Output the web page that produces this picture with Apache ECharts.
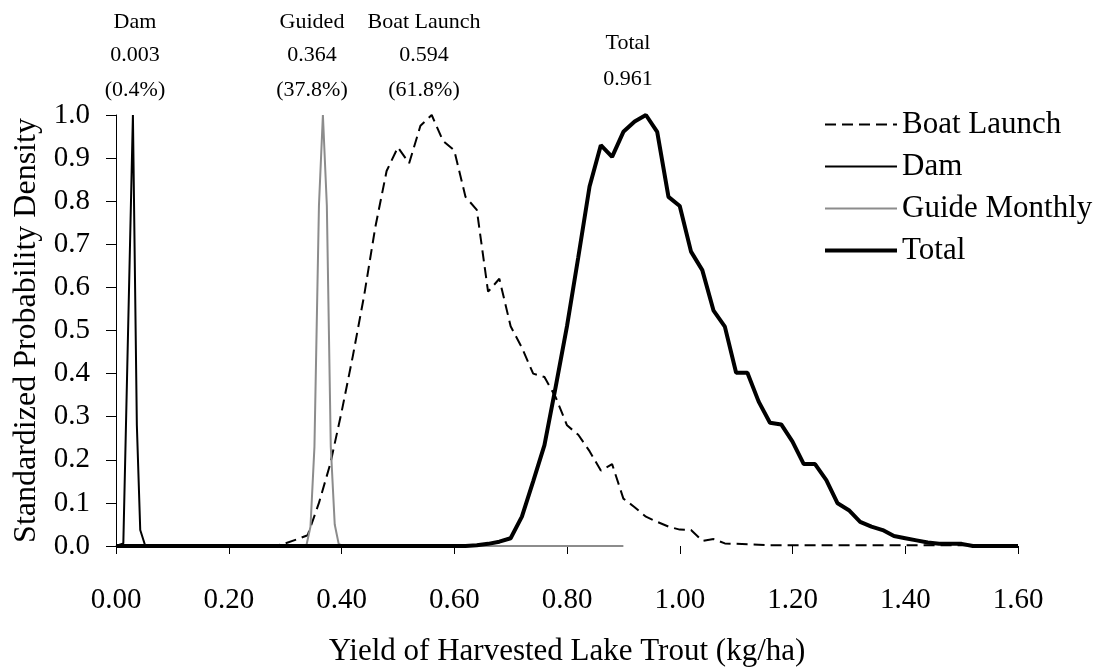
<!DOCTYPE html>
<html>
<head>
<meta charset="utf-8">
<script src="https://cdn.jsdelivr.net/npm/echarts@6/dist/echarts.min.js"></script>
<style>
html,body{margin:0;padding:0;background:#fff;}
#chart{width:1107px;height:672px;}
</style>
</head>
<body>
<div id="chart"></div>
<script>
// Yield grid (kg/ha)
const xGrid = [0.00,0.02,0.04,0.06,0.08,0.10,0.12,0.14,0.16,0.18,0.20,0.22,0.24,0.26,0.28,0.30,0.32,0.34,0.36,0.38,
  0.40,0.42,0.44,0.46,0.48,0.50,0.52,0.54,0.56,0.58,0.60,0.62,0.64,0.66,0.68,0.70,0.72,0.74,0.76,0.78,
  0.80,0.82,0.84,0.86,0.88,0.90,0.92,0.94,0.96,0.98,1.00,1.02,1.04,1.06,1.08,1.10,1.12,1.14,1.16,1.18,
  1.20,1.22,1.24,1.26,1.28,1.30,1.32,1.34,1.36,1.38,1.40,1.42,1.44,1.46,1.48,1.50,1.52,1.54,1.56,1.58,1.60];

const boatLaunch = [0,0,0,0,0,0,0,0,0,0,0,0,0,0,0,0.006,0.015,0.025,0.10,0.19,
  0.31,0.44,0.58,0.74,0.87,0.925,0.888,0.975,1.0,0.94,0.918,0.81,0.78,0.59,0.62,0.51,0.46,0.40,0.392,0.345,
  0.28,0.258,0.22,0.175,0.19,0.11,0.09,0.068,0.056,0.045,0.038,0.037,0.012,0.016,0.006,0.005,0.004,0.003,0.002,0.002,
  0.002,0.002,0.002,0.002,0.002,0.002,0.002,0.002,0.002,0.002,0.002,0.002,0.002,0.002,0.002,0.002,0.002,0.002,0.002,0.002,0.002];

const total = [0,0,0,0,0,0,0,0,0,0,0,0,0,0,0,0,0,0,0,0,
  0,0,0,0,0,0,0,0,0,0,0,0,0.002,0.005,0.01,0.018,0.068,0.15,0.234,0.37,
  0.51,0.67,0.834,0.93,0.903,0.961,0.985,1.0,0.961,0.81,0.789,0.683,0.64,0.546,0.509,0.402,0.402,0.335,0.286,0.282,
  0.242,0.19,0.19,0.153,0.099,0.083,0.056,0.045,0.037,0.023,0.018,0.013,0.008,0.005,0.005,0.005,0,0,0,0,0];

const damX = [0, 0.013, 0.030, 0.037, 0.043, 0.052, 0.60];
const damY = [0, 0.006, 1.0, 0.28, 0.037, 0, 0];

const guideX = [0, 0.331, 0.338, 0.345, 0.352, 0.360, 0.367, 0.374, 0.381, 0.388, 0.395, 0.402, 0.90];
const guideY = [0, 0, 0.003, 0.045, 0.23, 0.79, 1.0, 0.79, 0.23, 0.05, 0.005, 0, 0];

const seriesNames = ['Boat Launch', 'Dam', 'Guide Monthly', 'Total'];

// Annotations above the plot
const annoNames  = ['Dam', 'Guided', 'Boat Launch', 'Total'];
const annoMeans  = ['0.003', '0.364', '0.594', '0.961'];
const annoShares = ['(0.4%)', '(37.8%)', '(61.8%)', ''];

const FONT = '"Liberation Serif", "Times New Roman", serif';

function pairs(xs, ys){ return xs.map((x,i)=>[x, ys[i]]); }

const chart = echarts.init(document.getElementById('chart'), null, {renderer:'canvas'});

const annoPos = [
  {x:135, y:[22,55,90]},
  {x:312, y:[22,55,90]},
  {x:424, y:[22,55,90]},
  {x:628, y:[43,79,0]}
];
const graphics = [];
annoNames.forEach((n,i)=>{
  const p = annoPos[i];
  const rows = [n, annoMeans[i], annoShares[i]];
  rows.forEach((t,j)=>{
    if(!t) return;
    graphics.push({type:'text', x:p.x, y:p.y[j], style:{text:t, x:0, y:0, textAlign:'center', textVerticalAlign:'middle', font:'22px ' + FONT, fill:'#000'}});
  });
});

const lineWidths = [2, 2, 2, 4];

const option = {
  animation:false,
  backgroundColor:'#fff',
  grid:{left:116, right:89, top:115, bottom:126, containLabel:false},
  legend:{
    orient:'vertical', left:818, top:104,
    itemWidth:72, itemHeight:14, itemGap:11,
    data:seriesNames.map((n,i)=>({name:n, lineStyle:{width:lineWidths[i]}})),
    itemStyle:{opacity:0},
    textStyle:{fontFamily:FONT, fontSize:31, lineHeight:31, color:'#000'}
  },
  xAxis:{
    type:'value', min:0, max:1.6, interval:0.2,
    axisLine:{show:false},
    axisTick:{show:true, length:8, lineStyle:{color:'#000', width:1}},
    axisLabel:{margin:40, fontFamily:FONT, fontSize:29, color:'#000', formatter:v=>v.toFixed(2)},
    splitLine:{show:false},
    name:'Yield of Harvested Lake Trout (kg/ha)',
    nameLocation:'middle', nameGap:90,
    nameTextStyle:{fontFamily:FONT, fontSize:31, color:'#000'}
  },
  yAxis:{
    type:'value', min:0, max:1, interval:0.1,
    axisLine:{show:true, lineStyle:{color:'#000', width:1}},
    axisTick:{show:true, inside:false, length:10, lineStyle:{color:'#000', width:1}},
    axisLabel:{margin:26, fontFamily:FONT, fontSize:29, color:'#000', formatter:v=>v.toFixed(1)},
    splitLine:{show:false},
    name:'Standardized Probability Density',
    nameLocation:'middle', nameGap:70,
    nameTextStyle:{fontFamily:FONT, fontSize:32, color:'#000'}
  },
  series:[
    {name:'Boat Launch', type:'line', symbol:'none', data:pairs(xGrid, boatLaunch),
     lineStyle:{color:'#000', width:lineWidths[0], type:[11,6]}, itemStyle:{color:'#000'}, z:2},
    {name:'Dam', type:'line', symbol:'none', data:pairs(damX, damY),
     lineStyle:{color:'#000', width:lineWidths[1]}, itemStyle:{color:'#000'}, z:3},
    {name:'Guide Monthly', type:'line', symbol:'none', data:pairs(guideX, guideY),
     lineStyle:{color:'#8c8c8c', width:lineWidths[2]}, itemStyle:{color:'#8c8c8c'}, z:4},
    {name:'Total', type:'line', symbol:'none', data:pairs(xGrid, total),
     lineStyle:{color:'#000', width:lineWidths[3]}, itemStyle:{color:'#000'}, z:5}
  ],
  graphic:graphics
};
chart.setOption(option);
</script>
</body>
</html>
